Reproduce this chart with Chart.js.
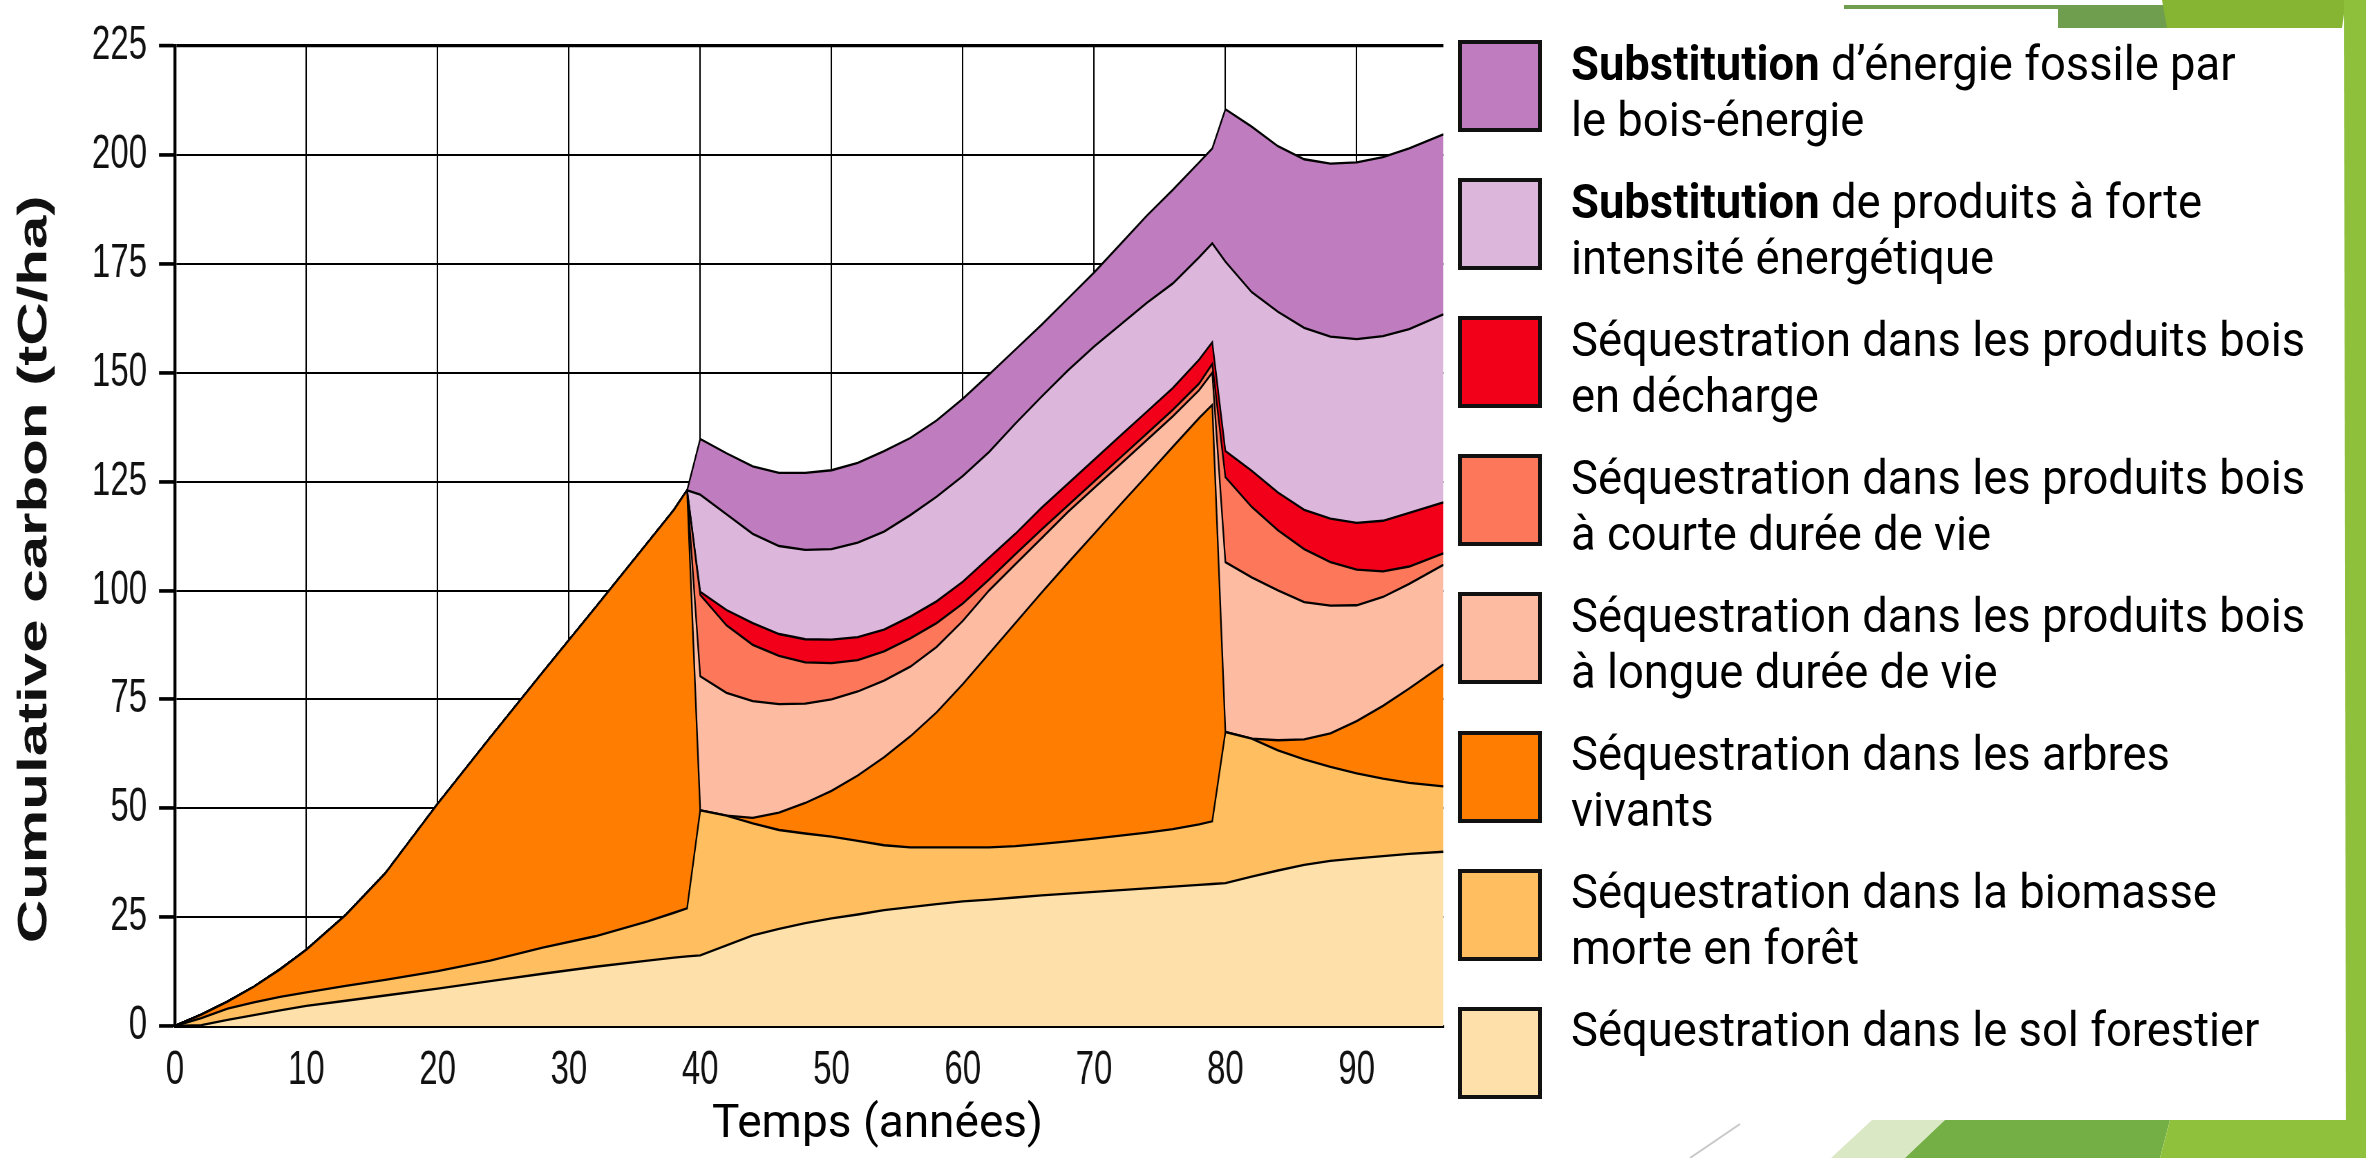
<!DOCTYPE html>
<html>
<head>
<meta charset="utf-8">
<script src="https://cdn.jsdelivr.net/npm/chart.js@4.4.1/dist/chart.umd.min.js"></script>
<style>
  html, body { margin:0; padding:0; background:#fff; width:2366px; height:1158px; overflow:hidden; }
  #wrap { position:relative; width:2366px; height:1158px; }
  #deco { position:absolute; left:0; top:0; }
  #c { position:absolute; left:0; top:0; }
  .box { position:absolute; left:1458px; width:84px; height:92px; box-sizing:border-box; border:4px solid #111; }
  .lbl { position:absolute; left:1571px; font-family:Roboto, "Open Sans", sans-serif; font-size:48px; line-height:56px; color:#000; white-space:nowrap; transform:scaleX(0.945); transform-origin:0 0; }
  .lbl b { font-weight:700; }
  #xt { position:absolute; left:712px; top:1098px; font-family:Roboto, "Open Sans", sans-serif; font-size:46px; line-height:46px; color:#000; white-space:nowrap; }
</style>
</head>
<body>
<div id="wrap">
  <svg id="deco" width="2366" height="1158">
    <polygon points="1844,5 2169,5 2169,28 2058,28 2058,9 1844,9" fill="#6f9f4e"/>
    <polygon points="2162,0 2346,0 2342,28 2167,28" fill="#85b533"/>
    <polygon points="2344,0 2366,0 2366,1158 2346,1158" fill="#8fc03b"/>
    <line x1="1690" y1="1158" x2="1740" y2="1124" stroke="#c9c9c9" stroke-width="2"/>
    <polygon points="1831,1158 1872,1120 1945,1120 1905,1158" fill="#dbe8c6"/>
    <polygon points="1905,1158 1945,1120 2170,1120 2160,1158" fill="#73af45"/>
    <polygon points="2160,1158 2170,1120 2366,1120 2366,1158" fill="#8fc13c"/>
  </svg>
  <canvas id="c" width="2366" height="800" style="width:2366px;height:1158px;"></canvas>
  <div id="legend"></div>
  <div id="xt">Temps (années)</div>
</div>
<script>
// ---- data (years, and thickness of each stacked layer, tC/ha) ----
const years = [0,2,4,6,8,10,13,16,20,24,28,32,36,38,39,
  40,42,44,46,48,50,52,54,56,58,60,62,64,66,68,70,72,74,76,78,79,
  80,82,84,86,88,90,92,94,96.6];

const soil = [0,0.2,1.4,2.5,3.6,4.6,5.8,7.0,8.6,10.3,12.0,13.6,15.0,15.7,16.0,
  16.2,18.5,20.8,22.3,23.6,24.7,25.6,26.6,27.3,28.0,28.6,29.0,29.5,30.0,30.4,30.8,31.2,31.6,32.0,32.4,32.6,
  32.8,34.3,35.7,37.0,37.9,38.5,39.0,39.5,40.0];

const deadBiomass = [0,1.6,2.6,2.9,3.1,3.1,3.4,3.6,4.0,4.7,6.0,7.0,9.0,10.3,11.0,
  33.3,29.8,25.7,22.7,20.6,18.8,16.9,14.9,13.7,13.0,12.4,12.0,11.8,11.8,12.0,12.2,12.5,12.8,13.2,13.9,14.4,
  34.7,31.7,27.6,24.2,21.6,19.5,17.8,16.3,15.0];

const livingTrees = [0,0.8,1.6,3.6,6.3,9.8,16.3,24.4,38.4,51.2,63.2,75.4,87.0,92.5,96.0,
  0,0,1.3,4.0,7.0,10.5,15.0,20.2,25.5,31.0,37.5,44.5,51.2,57.7,63.9,70.0,76.0,81.9,87.8,93.3,95.6,
  0,0,2.3,4.6,7.7,12.0,16.7,21.7,28.0];

const longLivedProducts = [0,0,0,0,0,0,0,0,0,0,0,0,0,0,0,
  30.8,28.2,26.8,24.9,22.8,21.0,19.3,17.6,16.0,15.0,14.5,14.5,13.5,12.5,11.7,10.5,9.3,8.2,7.0,6.4,7.4,
  39.0,37.0,34.4,31.5,29.3,26.6,25.0,24.0,22.9];

const shortLivedProducts = [0,0,0,0,0,0,0,0,0,0,0,0,0,0,0,
  18.7,15.5,12.9,11.1,9.5,8.3,7.2,6.7,6.5,5.5,4.0,2.5,2.3,2.0,1.5,1.5,1.5,1.5,1.5,1.5,2.0,
  19.5,16.2,13.8,12.2,10.0,8.2,5.9,4.0,2.6];

const landfillProducts = [0,0,0,0,0,0,0,0,0,0,0,0,0,0,0,
  0.7,3.5,5.0,5.0,5.3,5.4,5.3,5.0,5.0,5.0,5.0,5.0,4.7,5.0,5.0,5.0,5.0,5.0,5.0,5.5,5.0,
  6.0,8.3,8.7,9.0,10.0,10.7,11.6,12.3,11.7];

const productSubstitution = [0,0,0,0,0,0,0,0,0,0,0,0,0,0,0,
  22.3,22.0,20.5,20.2,20.5,20.8,21.7,22.5,23.3,24.0,24.3,24.3,25.3,25.5,26.0,26.0,25.5,25.0,24.0,23.5,22.7,
  43.5,41.0,41.5,41.8,41.8,42.2,42.4,42.2,43.2];

const energySubstitution = [0,0,0,0,0,0,0,0,0,0,0,0,0,0,0,
  12.8,14.0,15.5,16.8,17.7,18.1,18.3,18.5,17.7,17.5,17.7,17.8,17.0,16.5,16.5,17.0,18.5,20.0,21.5,21.8,21.8,
  35.0,38.0,38.0,38.7,39.7,40.6,41.1,41.5,41.3];

// bottom -> top
const seriesNames = [
  "Séquestration dans le sol forestier",
  "Séquestration dans la biomasse morte en forêt",
  "Séquestration dans les arbres vivants",
  "Séquestration dans les produits bois à longue durée de vie",
  "Séquestration dans les produits bois à courte durée de vie",
  "Séquestration dans les produits bois en décharge",
  "Substitution de produits à forte intensité énergétique",
  "Substitution d’énergie fossile par le bois-énergie"
];
const seriesColors = ["#fee0aa","#ffbe60","#ff7d00","#fdbba2","#fd775a","#f20019","#dcb7db","#bf7dbf"];
const seriesValues = [soil, deadBiomass, livingTrees, longLivedProducts, shortLivedProducts, landfillProducts, productSubstitution, energySubstitution];

// legend text lines, top -> bottom (bold marker "*")
const legendLines = [
  ["*Substitution* d’énergie fossile par", "le bois-énergie"],
  ["*Substitution* de produits à forte", "intensité énergétique"],
  ["Séquestration dans les produits bois", "en décharge"],
  ["Séquestration dans les produits bois", "à courte durée de vie"],
  ["Séquestration dans les produits bois", "à longue durée de vie"],
  ["Séquestration dans les arbres", "vivants"],
  ["Séquestration dans la biomasse", "morte en forêt"],
  ["Séquestration dans le sol forestier"]
];

const xTicks = [0,10,20,30,40,50,60,70,80,90];
const yTicks = [0,25,50,75,100,125,150,175,200,225];
const yTitle = "Cumulative carbon (tC/ha)";

// ---- legend (HTML) ----
const legend = document.getElementById('legend');
legendLines.forEach((lines, i) => {
  const colorIdx = seriesColors.length - 1 - i;
  const top = 40 + 138.1 * i;
  const box = document.createElement('div');
  box.className = 'box';
  box.style.top = top + 'px';
  box.style.background = seriesColors[colorIdx];
  legend.appendChild(box);
  const lbl = document.createElement('div');
  lbl.className = 'lbl';
  lbl.style.top = (top - 4.4) + 'px';
  lines.forEach((ln, k) => {
    if (k > 0) lbl.appendChild(document.createElement('br'));
    const parts = ln.split('*');
    parts.forEach((p, j) => {
      if (!p) return;
      if (j % 2 === 1) { const b = document.createElement('b'); b.textContent = p; lbl.appendChild(b); }
      else lbl.appendChild(document.createTextNode(p));
    });
  });
  legend.appendChild(lbl);
});

// ---- chart ----
const STRETCH = 1158 / 800;
const tickFont = { family: "'Liberation Sans', Arial, sans-serif", size: 33 };

const datasets = seriesValues.map((vals, i) => ({
  label: seriesNames[i],
  data: years.map((x, j) => ({ x: x, y: vals[j] })),
  backgroundColor: seriesColors[i],
  borderColor: '#000',
  borderWidth: 1.6,
  pointRadius: 0,
  tension: 0,
  fill: i === 0 ? 'origin' : '-1'
}));

new Chart(document.getElementById('c'), {
  type: 'line',
  data: { datasets: datasets },
  options: {
    responsive: false,
    devicePixelRatio: STRETCH,
    animation: false,
    layout: { padding: { left: 0, right: 2366 - 1443, top: 19, bottom: 0 } },
    plugins: { legend: { display: false }, tooltip: { enabled: false } },
    scales: {
      x: {
        type: 'linear', min: 0, max: 96.6,
        afterBuildTicks: sc => { sc.ticks = xTicks.map(v => ({ value: v })); },
        afterFit: sc => { sc.height = 91.2; },
        grid: { color: '#000', lineWidth: 1.4, drawTicks: false },
        border: { display: true, color: '#000', width: 2 },
        ticks: { color: '#111', font: tickFont, padding: 11, maxRotation: 0, autoSkip: false }
      },
      y: {
        stacked: true, min: 0, max: 225,
        afterBuildTicks: sc => { sc.ticks = yTicks.map(v => ({ value: v })); },
        afterFit: sc => { sc.width = 175; },
        grid: {
          color: '#000',
          lineWidth: c => (c.tick && c.tick.value === 225) ? 2.2 : 1.3,
          drawTicks: true, tickLength: 16, tickColor: '#000', tickWidth: 2.5
        },
        border: { display: true, color: '#000', width: 3 },
        ticks: { color: '#111', font: tickFont, padding: 12 },
        title: {
          display: true, text: yTitle + '\u00a0\u00a0\u00a0\u00a0', color: '#111',
          font: { family: "'Liberation Sans', Arial, sans-serif", size: 41.5, weight: 'bold' },
          padding: { top: 10, bottom: 0 }
        }
      }
    }
  }
});
</script>
</body>
</html>
